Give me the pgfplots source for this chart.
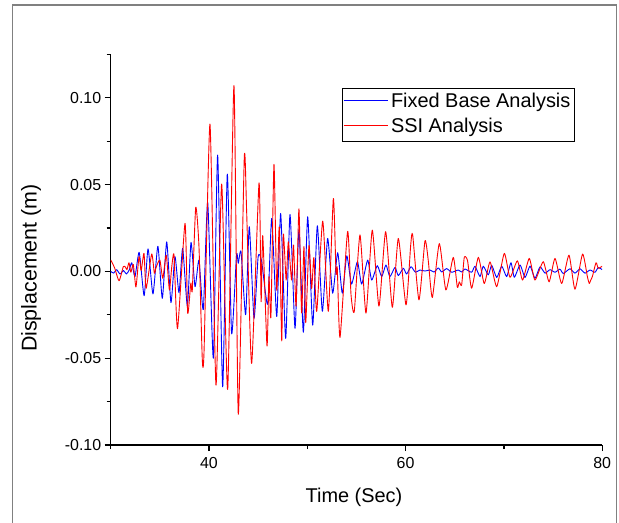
\documentclass[border=0pt]{standalone}
\usepackage{fontspec}
\setmainfont{Liberation Sans}
\usepackage{pgfplots}
\pgfplotsset{compat=1.18}

\begin{document}
\begin{tikzpicture}
\useasboundingbox (0bp,0bp) rectangle (619bp,523bp);
\draw[color=gray, line width=1.5bp] (12.5bp,-5bp) -- (12.5bp,518bp) -- (616.5bp,518bp) -- (616.5bp,-5bp);
\begin{axis}[
  at={(110.7bp,78bp)}, anchor=south west,
  scale only axis, width=491.5bp, height=390.6bp,
  xmin=30, xmax=80, ymin=-0.1, ymax=0.125,
  axis lines=left, axis line style={line width=1.2bp, -},
  xtick={40,60,80}, minor xtick={30,50,70},
  ytick={-0.1,-0.05,0,0.05,0.1}, minor ytick={-0.075,-0.025,0.025,0.075,0.125},
  tick align=outside, major tick length=6bp, minor tick length=4bp,
  tick style={line width=1.2bp, black},
  scaled y ticks=false, scaled x ticks=false,
  /pgf/number format/assume math mode=true,
  yticklabel style={/pgf/number format/fixed, /pgf/number format/fixed zerofill, /pgf/number format/precision=2},
  xticklabel style={yshift=-3bp},
  tick label style={font=\fontsize{16}{19}\selectfont},
  label style={font=\fontsize{20}{24}\selectfont},
  xlabel={Time (Sec)}, ylabel={Displacement (m)},
  xlabel style={at={(axis description cs:0.495,-0.1477)}, anchor=base},
  ylabel style={at={(axis description cs:-0.162,0.453)}, anchor=center, font=\fontsize{21.5}{25}\selectfont},
  legend style={at={(axis description cs:0.470,0.913)}, anchor=north west, draw=black, line width=0.8bp, fill=white,
    font=\fontsize{20}{24}\selectfont, inner xsep=1bp, inner ysep=1.5bp, row sep=0bp,
    nodes={inner xsep=3bp, inner ysep=2.5bp, text height=15bp, text depth=5bp}},
  legend cell align=left,
  legend image code/.code={\draw[#1, line width=0.9bp] (0bp,2bp) -- (44bp,2bp);},
  every axis plot/.append style={line width=0.9bp, line join=round, smooth, tension=0.35},
]
\addplot[blue] coordinates {
(30.0,0.000) (30.3,-0.001) (30.6,0.001) (30.95,-0.0015) (31.3,0.0005) (31.6,-0.0015) (31.9,0.001)
(32.14,0.005) (32.47,-0.003) (32.9,0.011) (33.4,-0.014) (33.8,0.013) (34.3,-0.013) (34.8,0.0145)
(35.25,-0.0155) (35.7,0.017) (36.13,-0.018) (36.54,0.0085) (36.95,-0.0123) (37.32,0.0133)
(37.8,-0.020) (38.17,0.0167) (38.58,-0.0088) (38.98,0.0065) (39.42,-0.022) (39.87,0.0397)
(40.44,-0.050) (40.88,0.067) (41.39,-0.0665) (41.86,0.056) (42.3,-0.0357) (42.8,0.0094)
(42.98,0.0047) (43.26,0.0113) (43.73,-0.025) (44.1,0.0257) (44.58,-0.027) (45.0,0.0085)
(45.35,0.006) (45.97,-0.019) (46.38,0.0305) (46.89,-0.026) (47.29,0.0334) (47.8,-0.0386)
(48.24,0.0328) (48.75,-0.0328) (49.15,0.024) (49.6,-0.035) (50.04,0.0315) (50.55,-0.031)
(51.02,0.0263) (51.53,-0.023) (52.07,0.019) (52.58,-0.0126) (53.09,0.0108) (53.56,-0.0126)
(54.02,0.009) (54.5,-0.0073) (55.1,0.0056) (55.53,-0.0073) (56.14,0.0065) (56.55,-0.005)
(57.12,0.0033) (57.57,-0.003) (58.0,0.0037) (58.4,-0.003) (58.92,0.0023) (59.26,-0.0024)
(59.77,0.0018) (60.1,-0.0015) (60.55,0.0027) (61.0,-0.0005) (61.46,0.0008) (61.97,0.0002)
(62.48,0.0008) (62.9,-0.0004) (63.33,0.002) (63.67,-0.0003) (64.18,0.0016) (64.69,-0.0005)
(65.36,0.0008) (65.7,-0.0004) (66.04,0.0014) (66.72,-0.0005) (67.06,0.003) (67.57,-0.003)
(67.9,0.003) (68.41,-0.002) (68.76,0.0035) (69.27,-0.0035) (69.78,0.003) (70.28,-0.003)
(70.72,0.005) (71.06,-0.0034) (71.64,0.0037) (72.15,-0.0035) (72.66,0.0031) (73.16,-0.004)
(73.67,0.0026) (74.18,-0.001) (74.69,0.001) (75.2,-0.0005) (75.7,0.0013) (76.04,-0.0012)
(76.72,0.0015) (77.23,-0.001) (77.74,0.0015) (78.25,-0.001) (78.76,0.0008) (79.26,-0.0005)
(79.6,0.0022) (80.0,0.001)
};
\addlegendentry{Fixed Base Analysis}
\addplot[red] coordinates {
(30.0,0.0066) (30.4,0.002) (30.85,-0.0054) (31.28,0.0027) (31.5,0.0025) (31.65,0.001) (31.86,0.005)
(32.05,-0.0005) (32.3,0.004) (32.57,-0.009) (32.88,0.0085) (33.1,0.0005) (33.39,0.0104)
(33.6,-0.0098) (34.17,0.010) (34.44,-0.0011) (34.6,0.002) (35.0,0.0066) (35.3,-0.004)
(35.65,0.0094) (35.97,-0.0107) (36.2,0.002) (36.44,0.0094) (36.8,-0.033) (37.56,0.0277)
(37.83,-0.024) (38.15,-0.0067) (38.3,-0.0108) (38.65,0.0369) (38.98,0.0143) (39.32,-0.051)
(39.5,-0.0453) (40.1,0.0849) (40.71,-0.0655) (41.29,0.0503) (41.9,-0.068) (42.54,0.107)
(42.98,-0.0823) (43.59,0.0657) (43.83,0.0344) (44.34,-0.053) (45.09,0.051) (45.3,-0.0174)
(45.47,0.0206) (45.9,-0.043) (46.1,-0.003) (46.3,-0.026) (46.61,0.0617) (46.89,-0.0108)
(47.15,0.0256) (47.4,-0.040) (47.56,0.0215) (47.85,-0.005) (48.07,0.0171) (48.4,-0.005)
(48.6,0.0152) (48.86,-0.020) (49.15,0.036) (49.42,-0.024) (49.66,0.0143) (49.84,-0.0295)
(50.17,0.015) (50.44,-0.0098) (50.67,0.008) (50.96,-0.023) (51.57,0.029) (52.14,-0.023)
(52.65,0.042) (52.92,-0.001) (53.05,0.002) (53.33,-0.038) (54.1,0.023) (54.45,-0.0136)
(54.78,-0.023) (55.36,0.021) (55.97,-0.024) (56.61,0.0238) (57.29,-0.020) (57.97,0.0229)
(58.65,-0.0207) (59.26,0.019) (60.04,-0.0193) (60.52,0.0152) (60.72,0.021) (61.36,-0.0164)
(61.97,0.0175) (62.3,0.0066) (62.72,-0.015) (63.43,0.016) (64.1,-0.0107) (64.85,0.0081)
(65.26,-0.0091) (65.46,-0.006) (65.7,-0.0079) (65.97,0.0081) (66.3,0.0062) (66.72,-0.0097)
(67.4,0.0081) (68.0,-0.007) (68.59,0.0055) (69.27,-0.0088) (70.04,0.0104) (70.62,-0.0034)
(71.37,0.0061) (71.9,-0.005) (72.58,0.0075) (73.16,-0.005) (74.0,0.0056) (74.6,-0.006)
(75.2,0.0075) (75.88,-0.007) (76.62,0.0094) (77.23,-0.0103) (78.0,0.010) (78.49,-0.003)
(78.69,-0.007) (78.83,-0.005) (79.0,-0.003) (79.37,0.005) (79.6,0.0018) (80.0,0.003)
};
\addlegendentry{SSI Analysis}
\end{axis}
\end{tikzpicture}
\end{document}
